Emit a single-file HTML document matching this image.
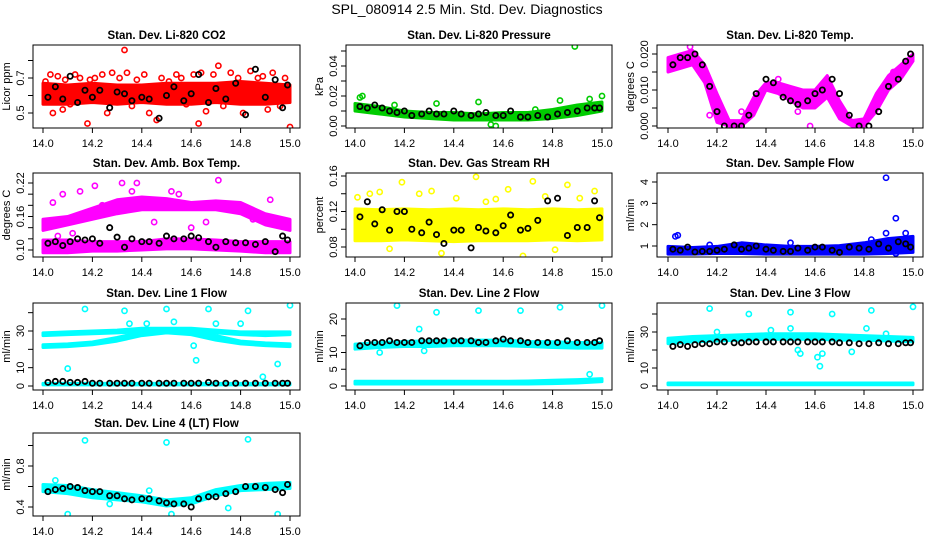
<!DOCTYPE html>
<html><head><meta charset="utf-8"><style>
html,body{margin:0;padding:0;background:#fff;}
svg{display:block;font-family:"Liberation Sans",sans-serif;}
</style></head><body>
<svg id="c" width="936" height="540" viewBox="0 0 936 540">
<rect width="936" height="540" fill="#fff"/>
<text x="467" y="14" text-anchor="middle" font-size="14">SPL_080914  2.5 Min. Std. Dev. Diagnostics</text>
</svg>
<script>
// ---- data ----
const xTicks = [14.0,14.2,14.4,14.6,14.8,15.0];
const xTickLabels = ["14.0","14.2","14.4","14.6","14.8","15.0"];
const bandX11 = [14.0,14.1,14.2,14.3,14.4,14.5,14.6,14.7,14.8,14.9,15.0];
const bandX21 = [14.0,14.05,14.1,14.15,14.2,14.25,14.3,14.35,14.4,14.45,14.5,14.55,14.6,14.65,14.7,14.75,14.8,14.85,14.9,14.95,15.0];
const blackX = [14.02,14.05,14.08,14.11,14.14,14.17,14.20,14.23,14.27,14.30,14.33,14.36,14.40,14.43,14.47,14.50,14.53,14.57,14.60,14.63,14.67,14.70,14.74,14.78,14.82,14.86,14.90,14.94,14.97,14.99];

const co2Black = [0.59,0.65,0.58,0.71,0.56,0.63,0.59,0.63,0.53,0.62,0.61,0.57,0.59,0.58,0.47,0.60,0.65,0.57,0.61,0.72,0.56,0.64,0.58,0.67,0.49,0.75,0.59,0.69,0.53,0.66];
const co2Lo = [0.55,0.55,0.56,0.55,0.56,0.55,0.55,0.56,0.55,0.55,0.56];
const co2Hi = [0.67,0.66,0.67,0.66,0.66,0.67,0.67,0.67,0.68,0.67,0.66];
const co2OutX = [14.01,14.03,14.04,14.06,14.08,14.09,14.11,14.13,14.15,14.18,14.19,14.21,14.24,14.26,14.28,14.31,14.33,14.34,14.36,14.38,14.41,14.43,14.46,14.48,14.51,14.54,14.56,14.58,14.61,14.63,14.64,14.66,14.69,14.71,14.73,14.76,14.79,14.81,14.84,14.87,14.89,14.91,14.93,14.96,14.98,15.0];
const co2OutY = [0.68,0.72,0.50,0.71,0.52,0.69,0.55,0.72,0.70,0.44,0.69,0.70,0.72,0.50,0.73,0.70,0.86,0.73,0.54,0.69,0.72,0.50,0.46,0.70,0.68,0.72,0.70,0.55,0.72,0.44,0.73,0.51,0.72,0.77,0.54,0.73,0.70,0.50,0.74,0.70,0.71,0.52,0.73,0.54,0.70,0.42];

const presBlack = [.013,.012,.014,.012,.010,.009,.010,.007,.008,.010,.008,.008,.010,.008,.007,.008,.009,.007,.007,.010,.006,.006,.007,.006,.008,.009,.010,.012,.012,.012];
const presLo = [.010,.008,.006,.005,.004,.004,.004,.004,.005,.007,.010];
const presHi = [.015,.013,.010,.009,.009,.008,.009,.009,.011,.014,.016];
const presOutX = [14.02,14.03,14.16,14.33,14.50,14.55,14.57,14.73,14.83,14.89,14.95,15.0];
const presOutY = [.019,.020,.014,.015,.016,.001,.000,.011,.017,.053,.018,.020];

const tempBlack = [.017,.019,.019,.020,.017,.011,.004,.000,.000,.000,.003,.009,.013,.012,.008,.007,.006,.007,.009,.010,.013,.009,.003,.000,.000,.004,.011,.013,.018,.020];
const tempLo = [.015,.016,.017,.012,.001,.000,.000,.003,.010,.009,.007,.005,.005,.008,.002,.000,.000,.004,.010,.013,.018];
const tempHi = [.019,.020,.021,.017,.009,.0015,.0015,.008,.012,.012,.011,.010,.010,.014,.007,.0015,.002,.009,.014,.017,.020];
const tempOutX = [14.09,14.17,14.30,14.45,14.53,14.58,14.82,14.92];
const tempOutY = [.022,.003,.004,.013,.004,.000,.003,.015];

const ambBlack = [.112,.115,.108,.115,.120,.118,.120,.112,.140,.123,.105,.120,.115,.115,.112,.125,.120,.120,.125,.122,.115,.105,.115,.113,.113,.110,.115,.097,.125,.118];
const ambUpLo = [.135,.145,.155,.165,.172,.172,.172,.172,.165,.145,.135];
const ambUpHi = [.155,.160,.175,.190,.195,.192,.185,.188,.185,.165,.155];
const ambDnLo = [.095,.095,.098,.098,.100,.102,.102,.100,.098,.095,.095];
const ambDnHi = [.118,.118,.115,.115,.115,.120,.120,.118,.115,.115,.115];
const ambOutX = [14.04,14.08,14.15,14.21,14.27,14.32,14.38,14.45,14.52,14.60,14.66,14.71,14.76,14.85,14.92,14.98,14.06,14.12,14.24,14.36,14.55,14.80];
const ambOutY = [.185,.200,.205,.215,.170,.220,.220,.150,.205,.140,.150,.225,.175,.155,.190,.145,.125,.130,.180,.205,.200,.170];

const rhBlack = [.114,.131,.106,.122,.099,.120,.120,.100,.096,.108,.094,.084,.099,.099,.079,.102,.098,.096,.104,.116,.099,.101,.110,.132,.135,.093,.102,.102,.132,.113];
const rhLo = [.087,.087,.088,.087,.086,.087,.087,.087,.088,.087,.088];
const rhHi = [.123,.122,.123,.122,.123,.122,.123,.122,.123,.122,.123];
const rhOutX = [14.01,14.06,14.10,14.14,14.19,14.26,14.31,14.35,14.41,14.49,14.53,14.57,14.62,14.68,14.72,14.77,14.81,14.86,14.91,14.97];
const rhOutY = [.136,.140,.142,.078,.153,.140,.143,.073,.135,.159,.131,.134,.145,.070,.154,.137,.077,.150,.135,.143];

const sampBlack = [.85,.80,.95,.72,.75,.75,.80,.85,1.05,.85,.90,1.00,.85,.80,.75,.75,.90,.80,.95,.95,.80,.70,.95,.90,.85,1.10,.90,1.20,1.10,.95];
const sampLo = [.62,.62,.65,.65,.62,.62,.62,.62,.62,.65,.70];
const sampHi = [.98,.93,.98,1.15,1.05,.98,.98,1.02,1.15,1.35,1.45];
const sampOutX = [14.03,14.04,14.17,14.50,14.83,14.89,14.89,14.93,14.93,14.97];
const sampOutY = [1.45,1.50,1.05,1.15,1.30,4.20,1.60,2.30,0.65,1.60];

const l1Black = [2.0,2.5,2.5,2.0,2.0,2.5,1.5,1.5,1.5,1.5,1.5,1.5,1.5,1.5,1.5,1.5,1.5,1.5,1.5,1.5,2.0,1.5,1.5,1.5,1.5,1.5,1.5,1.5,1.5,1.5];
const l1ALo = [27.5,28,28.5,29,29.5,30,29.5,29,28,27.5,28];
const l1AHi = [29,29.5,30,30.5,31.5,31.5,31.5,30.5,29.5,29.5,29.5];
const l1BLo = [21,21.5,22.5,24.5,27.5,29,28,25,23,22,21.5];
const l1BHi = [22.5,23,24,26.5,29.5,31,30.5,27.5,24.5,23.5,23];
const l1CLo = [0.6,0.6,0.6,0.6,0.6,0.6,0.6,0.6,0.6,0.6,0.6];
const l1CHi = [1.4,1.4,1.4,1.4,1.4,1.4,1.4,1.4,1.4,1.4,1.4];
const l1OutX = [14.10,14.17,14.33,14.35,14.42,14.50,14.53,14.61,14.62,14.67,14.70,14.80,14.83,14.89,14.95,15.0];
const l1OutY = [9.5,42,41,34,34,42,35,22,14,42,34,34,41,5,12,44];

const l2Black = [12,13,13,13,13.5,13,13,13,13.5,13.5,13.5,13.5,13.5,13.5,13.5,13,13,13.5,14,13.5,13.5,13,13,13,13,13.5,13,13,13,13.5];
const l2ALo = [11,11.5,11.8,11.8,12,12,12,11.8,11.5,11.3,11.3];
const l2AHi = [12.5,13,13.3,13.5,13.7,13.7,13.7,13.3,13.2,13,13];
const l2BLo = [0.6,0.6,0.6,0.6,0.6,0.6,0.6,0.6,0.7,0.9,1.3];
const l2BHi = [1.4,1.4,1.4,1.4,1.4,1.4,1.4,1.5,1.7,1.9,2.2];
const l2OutX = [14.10,14.17,14.26,14.28,14.33,14.50,14.67,14.83,14.95,15.0];
const l2OutY = [10,24,17,10.5,22,22.5,22.5,23.5,3.5,24];

const l3Black = [22,23,22,23,23.5,23.5,24.5,24.5,24,24,24.5,24.5,24.5,24.5,24.5,24.5,24.5,24.5,24.5,24.5,24.5,24,24,23.5,23.5,24,23.5,23.5,24,24];
const l3ALo = [23.5,24.5,25,25.5,26,26,26,25.5,25.5,25,24.5];
const l3AHi = [26.5,27.5,28,28.5,29,29,29,28.5,28,27.5,27];
const l3BLo = [0.7,0.7,0.7,0.7,0.7,0.7,0.7,0.7,0.7,0.7,0.7];
const l3BHi = [1.7,1.7,1.7,1.7,1.7,1.7,1.7,1.7,1.7,1.7,1.7];
const l3OutX = [14.17,14.20,14.33,14.42,14.50,14.50,14.53,14.54,14.61,14.62,14.63,14.67,14.75,14.81,14.83,14.89,15.0];
const l3OutY = [43,30,40,31,41,32,20,18,16,11,18,40,19,32,42,29,44];

const l4Black = [.55,.57,.58,.60,.59,.56,.55,.55,.51,.51,.48,.47,.48,.48,.46,.44,.43,.43,.40,.48,.50,.50,.53,.55,.60,.60,.59,.57,.54,.62];
const l4Lo = [.55,.53,.49,.47,.45,.41,.43,.51,.56,.57,.58];
const l4Hi = [.62,.61,.57,.54,.51,.47,.49,.57,.61,.63,.64];
const l4OutX = [14.05,14.10,14.17,14.27,14.43,14.50,14.52,14.75,14.83,14.95];
const l4OutY = [.66,.33,1.05,.43,.56,1.03,.33,.39,1.06,.33];

// ---- layout ----
const svg = document.getElementById('c');
const NS = 'http://www.w3.org/2000/svg';
const colL=[33,346,657], colR=[300,612,923], x14=[43,355,668], x15=[290,602,913];
const rowT=[45,173,303,433], rowB=[128,257,390,516];
function mk(tag, attrs, parent){const e=document.createElementNS(NS,tag);for(const k in attrs)e.setAttribute(k,attrs[k]);(parent||svg).appendChild(e);return e;}

function panel(p){
  const g = mk('g',{});
  
  
  const L=colL[p.c],R=colR[p.c],T=rowT[p.r],B=rowB[p.r];
  const xs = v => x14[p.c] + (v-14)*(x15[p.c]-x14[p.c]);
  const ys = v => p.py0 + (v-p.v0)*(p.py1-p.py0)/(p.v1-p.v0);
  const clip = 'clip-'+p.name;
  const cp = mk('clipPath',{id:clip},g); mk('rect',{x:L,y:T,width:R-L,height:B-T},cp);
  const plot = mk('g',{'clip-path':'url(#'+clip+')'},g);
  p.bands.forEach(b=>{
    let pts=[];
    for(let i=0;i<b.x.length;i++) pts.push(xs(b.x[i])+','+ys(b.hi[i]));
    for(let i=b.x.length-1;i>=0;i--) pts.push(xs(b.x[i])+','+ys(b.lo[i]));
    const poly = mk('polygon',{points:pts.join(' '),fill:p.col,stroke:p.col,'stroke-width':3,'stroke-linejoin':'round'},plot);
    
    
  });
  for(let i=0;i<p.ox.length;i++){
    const c = mk('circle',{cx:xs(p.ox[i]),cy:ys(p.oy[i]),r:2.6,fill:'none',stroke:p.col,'stroke-width':1.6},plot);
    
    
  }
  for(let i=0;i<blackX.length;i++){
    const c = mk('circle',{cx:xs(blackX[i]),cy:ys(p.by[i]),r:2.6,fill:'none',stroke:'#000','stroke-width':1.8},plot);
    
    
  }
  mk('rect',{x:L,y:T,width:R-L,height:B-T,fill:'none',stroke:'#000','stroke-width':1},g);
  xTicks.forEach((t,i)=>{
    mk('line',{x1:xs(t),x2:xs(t),y1:B,y2:B+5,stroke:'#000'},g);
    const tx = mk('text',{x:xs(t),y:B+19,'font-size':11,'text-anchor':'middle'},g);
    tx.textContent = xTickLabels[i];
    
    
  });
  p.yt.forEach((t,i)=>{
    const y=ys(t);
    mk('line',{x1:L,x2:L-5,y1:y,y2:y,stroke:'#000'},g);
    if(p.yl[i]){
      const tx = mk('text',{x:L-9,y:y,'font-size':11,'text-anchor':'middle',transform:'rotate(-90 '+(L-9)+' '+y+')'},g);
      tx.textContent = p.yl[i];
      
      
    }
  });
  const yc=(T+B)/2;
  const yt = mk('text',{x:L-23,y:yc,'font-size':11,'text-anchor':'middle',transform:'rotate(-90 '+(L-23)+' '+yc+')'},g);
  yt.textContent = p.ylab;
  
  
  const ti = mk('text',{x:(L+R)/2,y:T-6,'font-size':11.5,'font-weight':'bold','text-anchor':'middle'},g);
  ti.textContent = p.title;
  
  
}

panel({name:'co2-panel',c:0,r:0,col:'#ff0000',title:'Stan. Dev. Li-820 CO2',ylab:'Licor ppm',v0:0.5,py0:113,v1:0.7,py1:78,
  yt:[0.5,0.6,0.7,0.8],yl:['0.5','','0.7',''],bands:[{x:bandX11,lo:co2Lo,hi:co2Hi}],ox:co2OutX,oy:co2OutY,by:co2Black});
panel({name:'pressure-panel',c:1,r:0,col:'#00cc00',title:'Stan. Dev. Li-820 Pressure',ylab:'kPa',v0:0,py0:126,v1:0.04,py1:66,
  yt:[0,.01,.02,.03,.04,.05],yl:['0.00','','0.02','','0.04',''],bands:[{x:bandX11,lo:presLo,hi:presHi}],ox:presOutX,oy:presOutY,by:presBlack});
panel({name:'temp-panel',c:2,r:0,col:'#ff00ff',title:'Stan. Dev. Li-820 Temp.',ylab:'degrees C',v0:0,py0:126,v1:0.02,py1:54,
  yt:[0,.005,.01,.015,.02],yl:['0.000','','0.010','','0.020'],bands:[{x:bandX21,lo:tempLo,hi:tempHi}],ox:tempOutX,oy:tempOutY,by:tempBlack});
panel({name:'amb-box-temp-panel',c:0,r:1,col:'#ff00ff',title:'Stan. Dev. Amb. Box Temp.',ylab:'degrees C',v0:0.10,py0:250,v1:0.22,py1:183,
  yt:[.10,.12,.14,.16,.18,.20,.22],yl:['0.10','','','0.16','','','0.22'],bands:[{x:bandX11,lo:ambUpLo,hi:ambUpHi},{x:bandX11,lo:ambDnLo,hi:ambDnHi}],ox:ambOutX,oy:ambOutY,by:ambBlack});
panel({name:'gas-rh-panel',c:1,r:1,col:'#ffff00',title:'Stan. Dev. Gas Stream RH',ylab:'percent',v0:0.08,py0:247,v1:0.16,py1:176,
  yt:[.08,.10,.12,.14,.16],yl:['0.08','','0.12','','0.16'],bands:[{x:bandX11,lo:rhLo,hi:rhHi}],ox:rhOutX,oy:rhOutY,by:rhBlack});
panel({name:'sample-flow-panel',c:2,r:1,col:'#0000ff',title:'Stan. Dev. Sample Flow',ylab:'ml/min',v0:1,py0:246,v1:4,py1:182,
  yt:[1,2,3,4],yl:['1','2','3','4'],bands:[{x:bandX11,lo:sampLo,hi:sampHi}],ox:sampOutX,oy:sampOutY,by:sampBlack});
panel({name:'line1-flow-panel',c:0,r:2,col:'#00ffff',title:'Stan. Dev. Line 1 Flow',ylab:'ml/min',v0:0,py0:386,v1:30,py1:331,
  yt:[0,10,20,30,40],yl:['0','10','','30',''],bands:[{x:bandX11,lo:l1ALo,hi:l1AHi},{x:bandX11,lo:l1BLo,hi:l1BHi},{x:bandX11,lo:l1CLo,hi:l1CHi}],ox:l1OutX,oy:l1OutY,by:l1Black});
panel({name:'line2-flow-panel',c:1,r:2,col:'#00ffff',title:'Stan. Dev. Line 2 Flow',ylab:'ml/min',v0:0,py0:386,v1:20,py1:319,
  yt:[0,5,10,15,20],yl:['0','5','10','','20'],bands:[{x:bandX11,lo:l2ALo,hi:l2AHi},{x:bandX11,lo:l2BLo,hi:l2BHi}],ox:l2OutX,oy:l2OutY,by:l2Black});
panel({name:'line3-flow-panel',c:2,r:2,col:'#00ffff',title:'Stan. Dev. Line 3 Flow',ylab:'ml/min',v0:0,py0:386,v1:30,py1:332,
  yt:[0,10,20,30,40],yl:['0','10','','30',''],bands:[{x:bandX11,lo:l3ALo,hi:l3AHi},{x:bandX11,lo:l3BLo,hi:l3BHi}],ox:l3OutX,oy:l3OutY,by:l3Black});
panel({name:'line4-flow-panel',c:0,r:3,col:'#00ffff',title:'Stan. Dev. Line 4 (LT) Flow',ylab:'ml/min',v0:0.4,py0:507,v1:0.8,py1:466,
  yt:[.4,.6,.8,1.0],yl:['0.4','','0.8',''],bands:[{x:bandX11,lo:l4Lo,hi:l4Hi}],ox:l4OutX,oy:l4OutY,by:l4Black});
</script>
</body></html>
